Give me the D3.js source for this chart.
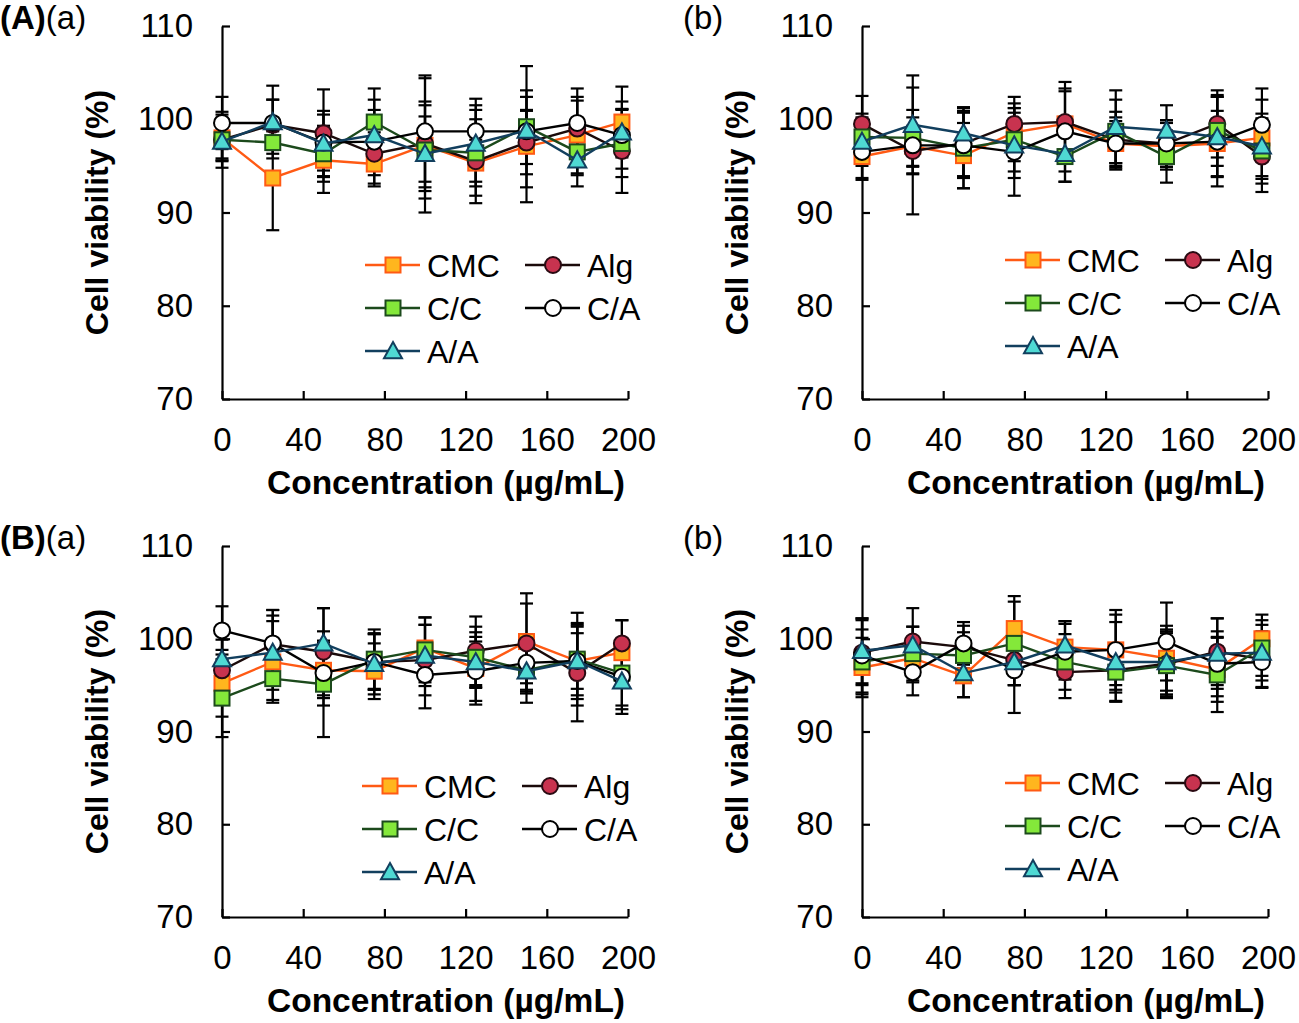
<!DOCTYPE html>
<html>
<head>
<meta charset="utf-8">
<script src="https://cdn.jsdelivr.net/npm/d3@7"></script>
<style>
  body { margin: 0; background: #fff; }
  text { font-family: "Liberation Sans", Arial, sans-serif; fill: #000; }
</style>
</head>
<body>
<svg id="chart" width="1299" height="1023"></svg>
<script>
// concentrations (ug/mL) at which viability was measured
var concentrations = [0, 25, 50, 75, 100, 125, 150, 175, 197];
var seriesNames = ["CMC", "Alg", "C/C", "C/A", "A/A"];
var xTicks = [0, 40, 80, 120, 160, 200];
var yTicks = [70, 80, 90, 100, 110];

// (A)(a) mean viability, one row per series (CMC, Alg, C/C, C/A, A/A)
var meansAa = [
  [98.0, 93.7, 95.6, 95.2, 97.2, 95.3, 97.1, 98.3, 99.7],
  [97.8, 99.4, 98.5, 96.3, 97.4, 95.5, 97.5, 99.0, 96.6],
  [97.8, 97.5, 96.3, 99.7, 96.7, 96.4, 99.2, 96.5, 97.4],
  [99.6, 99.6, 97.5, 97.6, 98.7, 98.7, 98.7, 99.6, 98.3],
  [97.6, 99.7, 97.4, 98.3, 96.3, 97.4, 98.8, 95.6, 98.6]
];
var sdAa = [
  [2.5, 5.6, 3.5, 2.4, 7.2, 2.5, 6.0, 4.1, 3.8],
  [3.0, 2.7, 4.7, 2.3, 4.1, 4.5, 3.4, 3.0, 4.5],
  [2.0, 1.2, 3.0, 3.6, 5.2, 4.6, 6.5, 2.5, 3.6],
  [2.8, 2.5, 3.0, 4.5, 6.0, 3.5, 2.3, 3.7, 3.6],
  [2.0, 3.9, 3.5, 2.7, 4.0, 4.1, 3.6, 2.8, 2.5]
];

// (A)(b)
var meansAb = [
  [96.0, 97.1, 96.1, 98.6, 99.5, 97.4, 97.1, 97.4, 98.0],
  [99.5, 96.6, 97.4, 99.5, 99.7, 97.8, 97.4, 99.5, 96.0],
  [98.1, 98.0, 96.9, 97.8, 96.0, 98.7, 96.0, 98.8, 96.6],
  [96.5, 97.2, 97.2, 96.5, 98.7, 97.4, 97.4, 97.6, 99.4],
  [97.6, 99.4, 98.5, 97.2, 96.3, 99.2, 98.8, 98.1, 97.1]
];
var sdAb = [
  [2.5, 2.2, 3.5, 3.1, 3.8, 2.4, 2.5, 3.5, 4.1],
  [3.0, 6.8, 3.5, 2.9, 4.3, 3.0, 2.5, 3.6, 3.8],
  [2.5, 3.0, 4.3, 3.4, 2.7, 3.4, 2.8, 3.8, 3.5],
  [2.8, 3.0, 3.5, 4.7, 4.3, 2.8, 2.5, 4.8, 3.9],
  [2.6, 5.3, 2.8, 3.5, 3.0, 3.9, 2.7, 4.3, 3.5]
];

// (B)(a)
var meansBa = [
  [95.2, 97.5, 96.6, 96.5, 99.0, 96.8, 99.7, 97.6, 98.5],
  [96.6, 99.4, 98.6, 97.5, 97.7, 98.7, 99.5, 96.3, 99.5],
  [93.6, 95.7, 95.1, 97.8, 98.8, 98.0, 96.6, 97.8, 96.3],
  [100.9, 99.5, 96.3, 97.5, 96.1, 96.5, 97.4, 97.6, 95.9],
  [97.8, 98.5, 99.5, 97.3, 98.2, 97.5, 96.5, 97.6, 95.4]
];
var sdBa = [
  [3.6, 4.4, 3.0, 3.0, 3.3, 3.9, 5.2, 4.1, 3.5],
  [3.3, 3.7, 4.7, 3.0, 3.8, 3.7, 4.3, 5.2, 2.5],
  [4.2, 2.3, 5.7, 3.2, 3.5, 3.3, 2.5, 5.0, 3.5],
  [2.6, 3.6, 3.5, 3.0, 3.6, 3.2, 3.1, 3.0, 3.5],
  [3.3, 4.0, 3.8, 3.3, 3.3, 2.7, 3.4, 3.7, 3.5]
];

// (B)(b)
var meansBb = [
  [96.9, 97.9, 96.0, 101.1, 99.1, 98.8, 97.9, 96.7, 100.0],
  [98.5, 99.7, 99.1, 97.7, 96.4, 96.6, 97.3, 98.6, 97.8],
  [97.5, 98.4, 98.2, 99.5, 97.5, 96.4, 97.1, 96.1, 99.0],
  [98.2, 96.4, 99.5, 96.6, 98.6, 98.8, 99.7, 97.3, 97.5],
  [98.7, 99.3, 96.3, 97.5, 99.3, 97.5, 97.5, 98.4, 98.5]
];
var sdBb = [
  [3.2, 2.0, 2.3, 3.5, 2.8, 3.8, 3.5, 3.5, 2.6],
  [3.5, 1.6, 2.3, 2.7, 2.8, 2.4, 3.5, 3.6, 3.0],
  [3.5, 2.9, 2.5, 4.5, 3.0, 3.1, 3.5, 4.0, 3.0],
  [4.0, 2.5, 2.3, 4.6, 3.0, 4.3, 4.2, 3.5, 2.8],
  [3.5, 4.0, 2.6, 2.5, 2.6, 4.3, 3.5, 3.8, 3.0]
];

// marker / line look per series
var styles = [
  {line: "#ff5a14", fill: "#ffb61e", stroke: "#ff5a14", shape: "square"},
  {line: "#1a0a0a", fill: "#c8334f", stroke: "#2a0a12", shape: "circle"},
  {line: "#1c4a1c", fill: "#84e83a", stroke: "#1c4a1c", shape: "square"},
  {line: "#000000", fill: "#ffffff", stroke: "#000000", shape: "circle"},
  {line: "#123f5e", fill: "#4fd9d3", stroke: "#123f5e", shape: "triangle"}
];

var panels = [
  {means: meansAa, sd: sdAa, left: 222, right: 628, top: 26, bottom: 399,
   big: "(A)", small: "(a)", lx: 0, ly: 29, legX: 365, legY: 265},
  {means: meansAb, sd: sdAb, left: 862, right: 1268, top: 26, bottom: 399,
   big: "", small: "(b)", lx: 683, ly: 29, legX: 1005, legY: 260},
  {means: meansBa, sd: sdBa, left: 222, right: 628, top: 546, bottom: 917,
   big: "(B)", small: "(a)", lx: 0, ly: 549, legX: 362, legY: 786},
  {means: meansBb, sd: sdBb, left: 862, right: 1268, top: 546, bottom: 917,
   big: "", small: "(b)", lx: 683, ly: 549, legX: 1005, legY: 783}
];

var svg = d3.select("#chart");
svg.append("rect").attr("width", 1299).attr("height", 1023).attr("fill", "#fff");

function drawMarker(g, style, cx, cy) {
  if (style.shape == "square") {
    g.append("rect")
      .attr("x", cx - 7.5).attr("y", cy - 7.5)
      .attr("width", 15).attr("height", 15)
      .attr("fill", style.fill).attr("stroke", style.stroke).attr("stroke-width", 2);
  } else if (style.shape == "circle") {
    g.append("circle")
      .attr("cx", cx).attr("cy", cy).attr("r", 8)
      .attr("fill", style.fill).attr("stroke", style.stroke).attr("stroke-width", 2);
  } else {
    var s = 9;
    g.append("path")
      .attr("d", "M" + cx + "," + (cy - s) + " L" + (cx + s) + "," + (cy + s * 0.8) +
                 " L" + (cx - s) + "," + (cy + s * 0.8) + " Z")
      .attr("fill", style.fill).attr("stroke", style.stroke).attr("stroke-width", 2)
      .attr("stroke-linejoin", "miter");
  }
}

panels.forEach(function(p) {
  var x = d3.scaleLinear().domain([0, 200]).range([p.left, p.right]);
  var y = d3.scaleLinear().domain([70, 110]).range([p.bottom, p.top]);
  var g = svg.append("g");

  // axes, ticks pointing inward
  var yAxis = d3.axisLeft(y).tickValues(yTicks).tickSizeInner(-8).tickSizeOuter(0).tickPadding(29);
  var xAxis = d3.axisBottom(x).tickValues(xTicks).tickSizeInner(-8).tickSizeOuter(0).tickPadding(29);

  var ya = g.append("g").attr("transform", "translate(" + p.left + ",0)").call(yAxis);
  var xa = g.append("g").attr("transform", "translate(0," + p.bottom + ")").call(xAxis);
  [ya, xa].forEach(function(a) {
    a.selectAll("path, line").attr("stroke", "#000").attr("stroke-width", 2.2);
    a.selectAll("text").style("font-family", "'Liberation Sans', Arial, sans-serif")
      .style("font-size", "33px").attr("fill", "#000");
  });

  // axis titles
  g.append("text")
    .attr("x", (p.left + p.right) / 2 + 21).attr("y", p.bottom + 95)
    .attr("text-anchor", "middle")
    .style("font-size", "33.5px").style("font-weight", "bold")
    .text("Concentration (\u00b5g/mL)");
  g.append("text")
    .attr("transform", "translate(" + (p.left - 114) + "," + ((p.top + p.bottom) / 2) + ") rotate(-90)")
    .attr("text-anchor", "middle")
    .style("font-size", "32px").style("font-weight", "bold")
    .text("Cell viability (%)");

  // panel label
  var lab = g.append("text").attr("x", p.lx).attr("y", p.ly).style("font-size", "33px");
  if (p.big) lab.append("tspan").style("font-weight", "bold").text(p.big);
  lab.append("tspan").text(p.small);

  // error bars first, then lines, then markers
  var eb = g.append("g");
  p.means.forEach(function(vals, si) {
    vals.forEach(function(v, i) {
      var e = p.sd[si][i];
      var cx = x(concentrations[i]);
      eb.append("line").attr("x1", cx).attr("x2", cx)
        .attr("y1", y(v - e)).attr("y2", y(v + e))
        .attr("stroke", "#000").attr("stroke-width", 2.2);
      [v - e, v + e].forEach(function(c) {
        eb.append("line").attr("x1", cx - 6.5).attr("x2", cx + 6.5)
          .attr("y1", y(c)).attr("y2", y(c))
          .attr("stroke", "#000").attr("stroke-width", 2.2);
      });
    });
  });

  var line = d3.line()
    .x(function(d, i) { return x(concentrations[i]); })
    .y(function(d) { return y(d); });

  p.means.forEach(function(vals, si) {
    var st = styles[si];
    var sg = g.append("g");
    sg.append("path").datum(vals).attr("d", line)
      .attr("fill", "none").attr("stroke", st.line).attr("stroke-width", 2.4);
    vals.forEach(function(v, i) {
      drawMarker(sg, st, x(concentrations[i]), y(v));
    });
  });

  // legend: two columns, CMC/Alg, C/C/C/A, A/A
  var lg = g.append("g");
  seriesNames.forEach(function(name, si) {
    var col = si % 2, row = Math.floor(si / 2);
    var lx = p.legX + col * 160, ly = p.legY + row * 43;
    var st = styles[si];
    lg.append("line").attr("x1", lx).attr("x2", lx + 55).attr("y1", ly).attr("y2", ly)
      .attr("stroke", st.line).attr("stroke-width", 2.4);
    drawMarker(lg, st, lx + 28, ly);
    lg.append("text").attr("x", lx + 62).attr("y", ly + 11.5)
      .style("font-size", "32px").text(name);
  });
});
</script>
</body>
</html>
